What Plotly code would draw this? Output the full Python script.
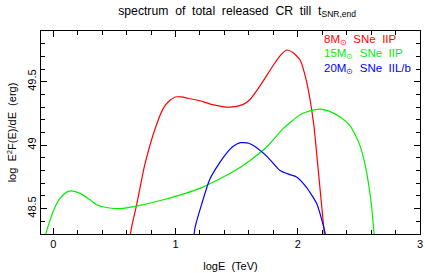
import plotly.graph_objects as go

# 8 Msun SNe IIP (red)
red_x = [0.62, 0.64, 0.68, 0.75, 0.83, 0.90, 0.95, 1.00, 1.05, 1.10, 1.20, 1.30, 1.45, 1.55, 1.61, 1.70, 1.80, 1.86, 1.91, 1.96, 2.02, 2.07, 2.13, 2.17, 2.218, 2.23]
red_y = [48.22, 48.35, 48.52, 48.85, 49.12, 49.29, 49.35, 49.38, 49.38, 49.37, 49.35, 49.32, 49.30, 49.32, 49.36, 49.48, 49.63, 49.71, 49.75, 49.73, 49.67, 49.51, 49.17, 48.78, 48.30, 48.20]

# 15 Msun SNe IIP (green)
green_x = [-0.07, -0.06, 0.00, 0.055, 0.11, 0.15, 0.22, 0.30, 0.355, 0.46, 0.55, 0.68, 0.90, 1.20, 1.47, 1.61, 1.75, 1.88, 2.02, 2.10, 2.18, 2.25, 2.35, 2.43, 2.50, 2.55, 2.60, 2.625, 2.635]
green_y = [48.22, 48.30, 48.48, 48.58, 48.63, 48.64, 48.62, 48.57, 48.53, 48.505, 48.50, 48.52, 48.57, 48.66, 48.79, 48.88, 48.99, 49.13, 49.24, 49.27, 49.285, 49.27, 49.22, 49.15, 49.02, 48.85, 48.55, 48.30, 48.20]

# 20 Msun SNe IIL/b (blue)
blue_x = [1.14, 1.16, 1.20, 1.28, 1.36, 1.42, 1.47, 1.53, 1.555, 1.60, 1.65, 1.75, 1.855, 1.93, 1.99, 2.07, 2.155, 2.20, 2.23, 2.24]
blue_y = [48.20, 48.35, 48.49, 48.73, 48.86, 48.94, 48.99, 49.02, 49.02, 49.015, 48.99, 48.91, 48.80, 48.77, 48.75, 48.67, 48.54, 48.40, 48.28, 48.20]

labels = ["8M<sub>⊙</sub>  SNe  IIP", "15M<sub>⊙</sub>  SNe  IIP", "20M<sub>⊙</sub>  SNe  IIL/b"]
colors = ["#ff0000", "#00f000", "#0000ff"]

FONT = "Liberation Sans, Arial, sans-serif"

fig = go.Figure()
for xs, ys, c in [(red_x, red_y, colors[0]), (green_x, green_y, colors[1]), (blue_x, blue_y, colors[2])]:
    fig.add_trace(go.Scatter(x=xs, y=ys, mode="lines", line=dict(color=c, width=1.2, shape="spline", smoothing=0.6), showlegend=False))

ann_y = [0.955, 0.885, 0.815]
for lab, c, yy in zip(labels, colors, ann_y):
    fig.add_annotation(text=lab, x=0.742, y=yy, xref="paper", yref="paper", xanchor="left", yanchor="middle",
                       showarrow=False, font=dict(color=c, size=11.5, family=FONT))

axis_common = dict(showline=True, linecolor="black", linewidth=1.2, mirror="allticks", ticks="inside",
                   ticklen=6, tickcolor="black", showgrid=False, zeroline=False, automargin=False,
                   tickfont=dict(size=11, family=FONT, color="black"))

fig.update_xaxes(range=[-0.1, 3.0], tick0=0, dtick=1,
                 minor=dict(ticks="inside", dtick=0.2, ticklen=4, tickcolor="black", showgrid=False),
                 title=dict(text="logE  (TeV)", font=dict(size=11, family=FONT, color="black"), standoff=13),
                 **axis_common)
fig.update_yaxes(range=[48.3, 49.9], tick0=48.5, dtick=0.5, tickangle=-90,
                 minor=dict(ticks="inside", dtick=0.1, ticklen=4, tickcolor="black", showgrid=False),
                 title=dict(text="log  E<sup>2</sup>F(E)/dE  (erg)", font=dict(size=11, family=FONT, color="black"), standoff=6),
                 **axis_common)

fig.update_layout(
    width=425, height=273,
    margin=dict(l=41, r=5, t=31, b=39),
    paper_bgcolor="white", plot_bgcolor="white",
    title=dict(text="spectrum  of  total  released  CR  till  t<sub>SNR,end</sub>", x=0.558, xanchor="center",
               y=0.962, yanchor="middle", font=dict(size=12.2, family=FONT, color="black")),
)

fig.write_html("out.html", config={"displayModeBar": False}, post_script="document.body.style.margin='0';")
